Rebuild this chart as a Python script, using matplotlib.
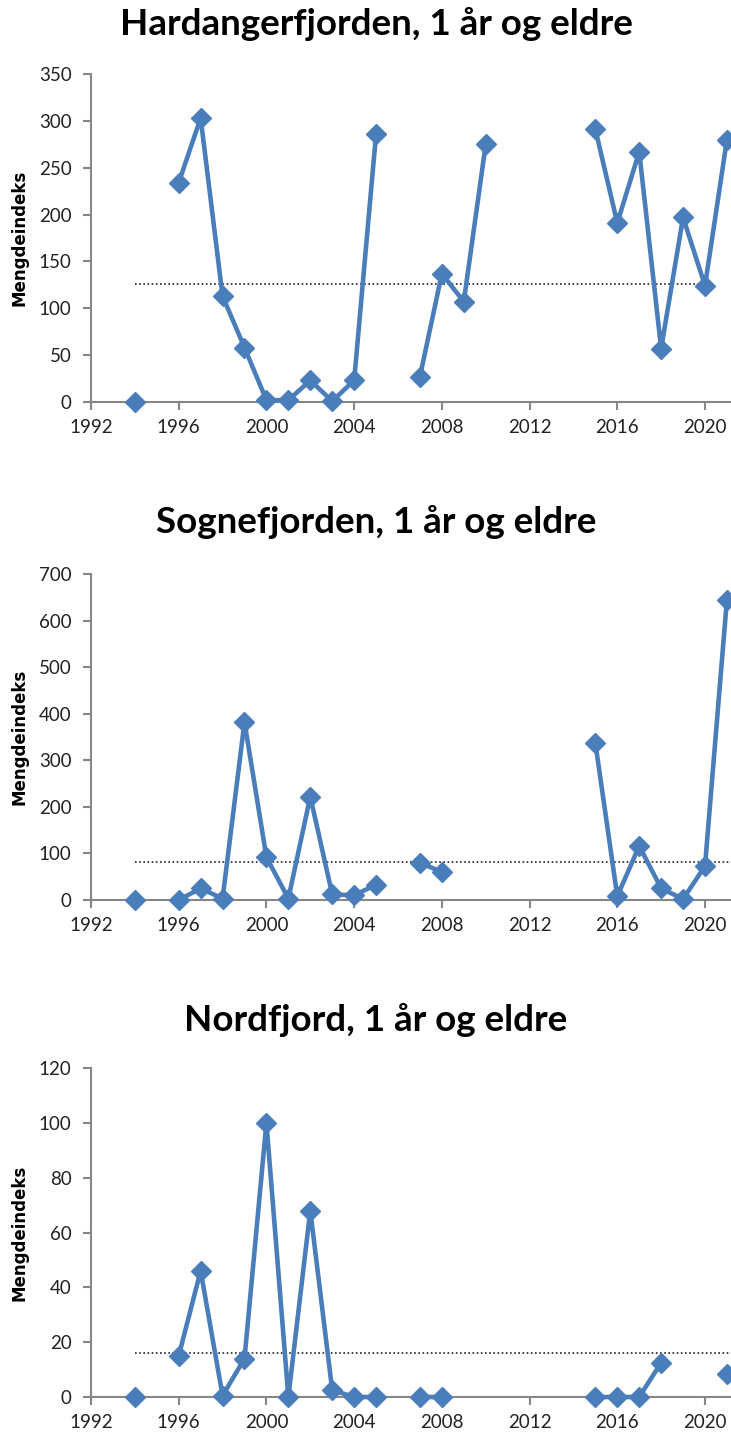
import numpy as np
import matplotlib
matplotlib.use("Agg")
import matplotlib.pyplot as plt

years = list(range(1994, 2022))
nan = np.nan

titles = ["Hardangerfjorden, 1 år og eldre",
          "Sognefjorden, 1 år og eldre",
          "Nordfjord, 1 år og eldre"]

# values for 1994..2021 (nan = missing)
hardanger = [0, nan, 234, 303, 113, 58, 2, 2, 23, 1, 23, 286, nan, 27, 137, 107, 275,
             nan, nan, nan, nan, 291, 191, 267, 57, 197, 124, 280]
sogne = [0, nan, 0, 25, 3, 382, 92, 3, 222, 12, 10, 33, nan, 80, 60, nan,
         nan, nan, nan, nan, nan, 337, 8, 116, 25, 2, 73, 645]
nord = [0, nan, 15, 46, 0.5, 14, 100, 0, 68, 2.5, 0, 0, nan, 0, 0, nan,
        nan, nan, nan, nan, nan, 0, 0, 0, 12.5, nan, nan, 8.5]

means = [126, 81, 16]
mean_spans = [(1994, 2020), (1994, 2022), (1994, 2022)]
ymaxes = [350, 700, 120]
ysteps = [50, 100, 20]
xticks = list(range(1992, 2024, 4))

W, H = 731, 1438
fig = plt.figure(figsize=(W / 100, H / 100), dpi=100)

# pixel layout: (top, bottom) of axes, title center y
layout = [(74, 402, 24), (574, 900, 522), (1068, 1397, 1020)]
left_px, right_px = 91, 731
xmin = 1992
xmax = 1992 + (right_px - left_px) / ((705 - 91) / 28)

blue = "#4A7EBB"
gray = "#868686"
tickfont = "Lato"

for i, (vals, title) in enumerate(zip([hardanger, sogne, nord], titles)):
    top, bot, ty = layout[i]
    ax = fig.add_axes([left_px / W, 1 - bot / H, (right_px - left_px) / W, (bot - top) / H])
    ax.plot(years, vals, color=blue, lw=3.3, marker="D", markersize=10.5,
            markerfacecolor=blue, markeredgecolor=blue, clip_on=False, zorder=3)
    ax.plot(list(mean_spans[i]), [means[i], means[i]], color="#222222", lw=1.2,
            linestyle=(0, (1, 1.5)), zorder=2, clip_on=True)
    ax.set_xlim(xmin, xmax)
    ax.set_ylim(0, ymaxes[i])
    ax.set_xticks(xticks)
    ax.set_yticks(np.arange(0, ymaxes[i] + 1, ysteps[i]))
    for s in ["top", "right"]:
        ax.spines[s].set_visible(False)
    for s in ["left", "bottom"]:
        ax.spines[s].set_color(gray)
        ax.spines[s].set_linewidth(1.5)
    ax.tick_params(axis="both", colors=gray, length=6, width=1.5, direction="out",
                   labelcolor="#222222", labelsize=13.5)
    ax.tick_params(axis="y", pad=8)
    ax.tick_params(axis="x", pad=6)
    for lab in ax.get_xticklabels() + ax.get_yticklabels():
        lab.set_fontfamily(tickfont)
    ax.set_ylabel("Mengdeindeks", fontsize=12, fontweight="bold",
                  fontfamily="DejaVu Sans", color="black")
    ax.yaxis.set_label_coords(-0.097, 0.5)
    ax.patch.set_visible(False)
    fig.text(376 / W, 1 - ty / H, title, ha="center", va="center",
             fontsize=26.5, fontweight="bold", fontfamily="Lato", color="black")

fig.savefig("out.png", dpi=100)
